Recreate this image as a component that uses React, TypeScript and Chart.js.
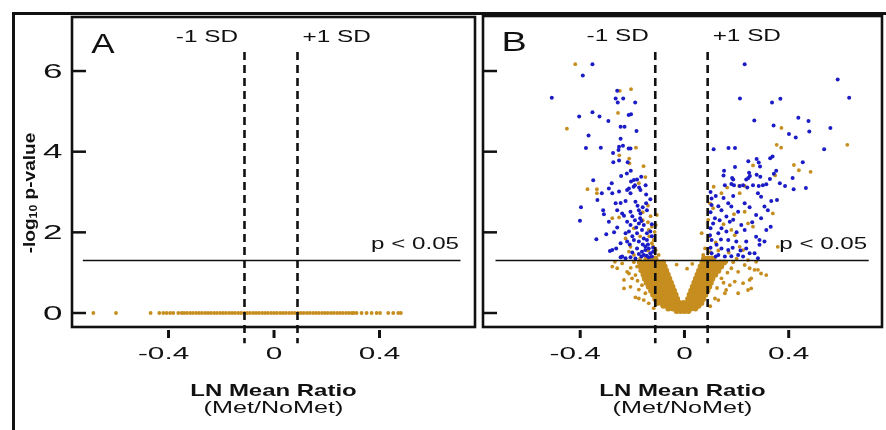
import React, { useEffect, useRef } from "react";
import { Chart, registerables } from "chart.js";

Chart.register(...registerables);

const FONT = '"Liberation Sans", Arial, sans-serif';
const GOLD = "#c68d1f";
const BLUE = "#1c1cc6";
const INK = "#111111";

// ---- axes / annotations ----
const xTicks = [-0.4, 0, 0.4];
const xTickLabels = ["-0.4", "0", "0.4"];
const yTicks = [0, 2, 4, 6];
const yTickLabels = ["0", "2", "4", "6"];
const sdLines = [-0.112, 0.089];
const sdLabels = ["-1 SD", "+1 SD"];
const sdLineSpan = [6.47, -0.75];
const pThreshold = 1.3;
const pLineX = [-0.725, 0.707];
const pLabel = "p < 0.05";
const xTitle = "LN Mean Ratio";
const xSubtitle = "(Met/NoMet)";
const yTitleMain = "-log";
const yTitleSub = "10";
const yTitleEnd = " p-value";
const panelLetters = ["A", "B"];

const xRangeA = [-0.766, 0.762];
const yRangeA = [-0.347, 7.34];
const xRangeB = [-0.773, 0.758];
const yRangeB = [-0.347, 7.364];

// ---- Panel A: every ratio has -log10 p = 0 ----
const panelAX = [
  -0.685, -0.599, -0.468, -0.435, -0.42, -0.407, -0.394, -0.382, -0.363, -0.35,
  -0.341, -0.33, -0.318, -0.307, -0.295, -0.284, -0.273, -0.261, -0.25, -0.239,
  -0.227, -0.216, -0.204, -0.193, -0.182, -0.17, -0.159, -0.148, -0.136, -0.125,
  -0.113, -0.102, -0.091, -0.079, -0.068, -0.057, -0.045, -0.034, -0.023, -0.011,
  0, 0.011, 0.023, 0.034, 0.045, 0.057, 0.068, 0.079, 0.091, 0.102, 0.113, 0.125,
  0.136, 0.148, 0.159, 0.17, 0.182, 0.193, 0.204, 0.216, 0.227, 0.239, 0.25,
  0.261, 0.273, 0.284, 0.295, 0.302, 0.313, 0.332, 0.351, 0.37, 0.389, 0.402,
  0.433, 0.452, 0.471, 0.481,
];

// ---- Panel B: significant (blue) ----
const panelBBlue = [
  [-0.353, 6.17], [-0.39, 5.89], [-0.509, 5.34], [-0.258, 5.51], [-0.264, 5.32], [-0.235, 5.32],
  [-0.256, 5.22], [-0.189, 5.22], [-0.353, 4.98], [-0.214, 4.91], [-0.205, 4.93], [-0.404, 4.87],
  [-0.326, 4.87], [-0.292, 4.76], [-0.245, 4.62], [-0.23, 4.62], [-0.184, 4.51], [-0.368, 4.4],
  [-0.245, 4.32], [-0.378, 4.09], [-0.321, 4.1], [-0.251, 4.12], [-0.236, 4.15], [-0.253, 4.04],
  [-0.214, 4.08], [-0.207, 4.08], [-0.274, 3.97], [-0.273, 3.74], [-0.251, 3.78], [-0.218, 3.74],
  [-0.206, 3.53], [-0.221, 3.46], [-0.243, 3.4], [-0.166, 3.38], [-0.35, 3.29], [-0.194, 3.3],
  [-0.182, 3.31], [-0.279, 3.22], [-0.195, 3.13], [-0.174, 3.11], [-0.149, 3.17], [-0.29, 3.09],
  [-0.213, 3.09], [-0.205, 3.26], [-0.19, 3.17],
  [-0.317, 2.97], [-0.277, 2.97], [-0.251, 3.01], [-0.22, 3.05], [-0.207, 2.97], [-0.169, 3.05],
  [-0.147, 2.94], [-0.334, 2.8], [-0.264, 2.72], [-0.245, 2.73], [-0.226, 2.78], [-0.188, 2.76],
  [-0.147, 2.72], [-0.131, 2.82], [-0.397, 2.62], [-0.312, 2.55], [-0.309, 2.45], [-0.258, 2.55],
  [-0.239, 2.47], [-0.232, 2.41], [-0.207, 2.51], [-0.175, 2.55], [-0.169, 2.47], [-0.144, 2.55],
  [-0.401, 2.29], [-0.29, 2.26], [-0.22, 2.26], [-0.207, 2.18], [-0.175, 2.22], [-0.156, 2.18],
  [-0.258, 2.12], [-0.226, 1.98], [-0.213, 2.02], [-0.182, 1.98], [-0.163, 2.06], [-0.144, 1.98],
  [-0.131, 2.02], [-0.338, 1.83], [-0.245, 1.73], [-0.22, 1.77], [-0.194, 1.81], [-0.175, 1.77],
  [-0.156, 1.85], [-0.144, 1.81], [-0.286, 1.54], [-0.262, 1.6], [-0.182, 1.6], [-0.163, 1.52],
  [-0.15, 1.56], [-0.137, 1.6], [-0.156, 1.44], [-0.175, 1.46], [-0.131, 1.48], [-0.245, 1.38],
  [-0.226, 1.36], [-0.207, 1.38], [-0.188, 1.35], [-0.137, 1.38], [-0.277, 1.56], [-0.239, 1.4],
  [-0.2, 1.9], [-0.19, 2.3], [-0.17, 2.35], [-0.16, 1.7], [-0.15, 1.65], [-0.14, 1.7],
  [-0.125, 1.9], [-0.12, 1.62], [-0.165, 1.4], [-0.145, 1.42], [-0.2, 1.5], [-0.21, 1.7],
  [-0.185, 2.12], [-0.165, 2.28], [-0.125, 2.2], [-0.2, 2.4], [-0.18, 2.66], [-0.16, 2.62],
  [-0.27, 2.0], [-0.3, 1.95], [-0.125, 1.4], [-0.12, 1.52],
  [0.231, 6.17], [0.588, 5.79], [0.632, 5.34], [0.213, 5.32], [0.336, 5.22], [0.368, 5.31],
  [0.268, 4.77], [0.437, 4.84], [0.476, 4.76], [0.342, 4.65], [0.56, 4.59], [0.479, 4.5],
  [0.401, 4.44], [0.427, 4.35], [0.536, 4.06], [0.112, 4.06], [0.169, 4.09], [0.194, 4.09],
  [0.277, 3.82], [0.245, 3.76], [0.285, 3.73], [0.329, 3.84], [0.338, 3.88], [0.454, 3.74],
  [0.29, 3.63], [0.194, 3.62], [0.152, 3.53], [0.15, 3.41], [0.248, 3.48], [0.251, 3.4],
  [0.245, 3.35], [0.237, 3.31], [0.277, 3.43], [0.352, 3.53], [0.343, 3.45], [0.291, 3.38],
  [0.183, 3.35], [0.187, 3.31], [0.415, 3.35], [0.328, 3.32], [0.366, 3.22], [0.314, 3.19],
  [0.301, 3.17], [0.285, 3.15], [0.263, 3.17], [0.241, 3.11], [0.386, 3.15], [0.19, 3.17],
  [0.225, 3.17], [0.466, 3.1], [0.419, 3.07], [0.155, 3.17], [0.18, 3.2], [0.212, 3.15],
  [0.187, 2.9], [0.282, 2.97], [0.294, 2.88], [0.333, 2.78], [0.355, 2.8], [0.104, 2.84],
  [0.104, 2.68], [0.168, 2.72], [0.18, 2.64], [0.231, 2.72], [0.25, 2.62], [0.307, 2.64],
  [0.32, 2.55], [0.206, 2.51], [0.142, 2.55], [0.161, 2.39], [0.174, 2.26], [0.187, 2.31],
  [0.117, 2.35], [0.11, 2.22], [0.275, 2.43], [0.294, 2.35], [0.218, 2.18], [0.231, 2.06],
  [0.142, 2.1], [0.161, 2.02], [0.13, 1.98], [0.275, 1.89], [0.288, 1.81], [0.307, 1.77],
  [0.098, 1.93], [0.104, 1.81], [0.168, 1.81], [0.199, 1.77], [0.237, 1.77], [0.123, 1.69],
  [0.142, 1.6], [0.168, 1.56], [0.237, 1.6], [0.25, 1.48], [0.104, 1.48], [0.13, 1.44],
  [0.155, 1.4], [0.18, 1.41], [0.206, 1.44], [0.225, 1.4], [0.282, 1.36], [0.314, 2.06],
  [0.331, 2.14], [0.288, 1.69], [0.269, 1.48],
  [0.1, 3.0], [0.1, 2.5], [0.1, 2.1], [0.1, 1.62], [0.12, 2.9], [0.13, 2.65], [0.15, 2.85],
  [0.14, 1.82], [0.185, 1.62], [0.2, 2.0], [0.215, 1.55], [0.12, 1.4], [0.135, 2.3], [0.26, 2.25],
];

// ---- Panel B: not significant (gold), sparse ----
const panelBGold = [
  [-0.419, 6.17], [-0.248, 5.51], [-0.205, 5.55], [-0.255, 4.96], [-0.451, 4.57], [-0.186, 4.1],
  [-0.25, 3.91], [-0.212, 3.83], [-0.211, 3.71], [-0.157, 3.64], [-0.15, 3.37], [-0.175, 3.22],
  [-0.372, 3.07], [-0.336, 3.07], [-0.336, 2.97], [-0.106, 2.43], [-0.277, 2.35], [-0.251, 2.37],
  [-0.194, 2.1], [-0.137, 2.06], [-0.125, 2.14], [-0.226, 1.85], [-0.207, 1.64], [-0.125, 1.73],
  [-0.213, 1.52], [-0.194, 1.44], [-0.118, 1.81], [-0.11, 1.56], [-0.114, 2.01], [-0.122, 1.36],
  [-0.099, 1.44], [-0.11, 2.18], [-0.16, 2.3], [-0.14, 2.25], [-0.13, 2.4], [-0.17, 1.9],
  [-0.135, 1.9], [-0.15, 1.3], [-0.14, 1.55], [-0.17, 1.35], [-0.12, 1.65], [-0.16, 2.5], [-0.14, 2.66],
  [0.372, 4.59], [0.354, 4.17], [0.371, 4.1], [0.625, 4.17], [0.263, 3.66], [0.42, 3.67],
  [0.439, 3.54], [0.484, 3.5], [0.348, 3.41], [0.112, 3.13], [0.164, 3.11], [0.21, 3.15],
  [0.231, 3.15], [0.142, 2.97], [0.212, 2.97], [0.339, 2.47], [0.231, 2.51], [0.244, 2.22],
  [0.263, 2.14], [0.18, 2.06], [0.193, 1.93], [0.212, 1.64], [0.225, 1.56], [0.066, 1.98],
  [0.079, 1.6], [0.072, 1.44], [0.091, 2.31], [0.098, 2.72], [0.358, 1.64], [0.084, 1.36],
  [0.099, 1.51], [0.114, 1.36], [0.15, 2.2], [0.12, 1.75], [0.17, 1.5], [0.2, 1.35], [0.13, 1.55],
  [0.095, 1.9], [0.11, 2.6], [0.19, 2.45],
  [-0.277, 1.15], [-0.258, 1.11], [-0.267, 1.27], [-0.232, 0.61], [-0.207, 0.65], [-0.22, 1.02],
  [-0.188, 0.94], [-0.201, 0.86], [-0.175, 0.36], [-0.15, 0.49], [-0.163, 0.69], [-0.239, 1.23],
  [-0.182, 1.15], [-0.137, 0.24], [-0.188, 0.39], [-0.232, 0.82], [-0.213, 0.98], [-0.194, 1.26],
  [-0.206, 1.12], [-0.156, 0.32], [-0.118, 0.12], [-0.18, 0.8], [-0.17, 1.05], [-0.175, 0.58],
  [0.18, 1.11], [0.206, 1.02], [0.231, 1.19], [0.256, 0.86], [0.269, 1.07], [0.174, 0.69],
  [0.155, 0.49], [0.142, 0.86], [0.193, 0.78], [0.117, 0.36], [0.161, 1.27], [0.244, 1.31],
  [0.25, 1.11], [0.275, 1.27], [0.282, 1.07], [0.314, 0.94], [0.294, 0.98], [0.25, 0.82],
  [0.256, 0.61], [0.206, 0.49], [0.225, 0.74], [0.244, 0.57], [0.187, 1.26], [0.13, 0.32],
  [0.099, 0.17], [0.16, 0.57], [0.165, 1.0], [0.15, 0.75], [0.125, 0.62],
  [-0.03, 1.2], [0.01, 1.1], [0.03, 1.22],
];

// ---- Panel B: dense core of the volcano (gold), row by row: [y, x values] ----
const panelBCoreRows = [
  [1.35, [-0.145, -0.128, -0.112, 0.075, 0.09, 0.105]],
  [1.25, [-0.171, -0.153, -0.135, -0.117, -0.1, -0.082, 0.069, 0.086, 0.103, 0.12, 0.137, 0.152]],
  [1.15, [-0.168, -0.15, -0.132, -0.113, -0.095, -0.076, 0.062, 0.078, 0.094, 0.11, 0.126, 0.141]],
  [1.05, [-0.162, -0.144, -0.126, -0.107, -0.088, -0.07, 0.056, 0.071, 0.086, 0.1, 0.115, 0.13]],
  [0.95, [-0.157, -0.139, -0.12, -0.101, -0.083, -0.064, 0.05, 0.064, 0.078, 0.091, 0.105, 0.118]],
  [0.85, [-0.152, -0.134, -0.115, -0.096, -0.077, -0.058, 0.044, 0.057, 0.07, 0.082, 0.095, 0.107]],
  [0.75, [-0.145, -0.127, -0.108, -0.089, -0.07, -0.052, 0.038, 0.051, 0.064, 0.076, 0.089, 0.101]],
  [0.65, [-0.137, -0.119, -0.1, -0.082, -0.064, -0.046, 0.032, 0.045, 0.057, 0.07, 0.082, 0.095]],
  [0.55, [-0.128, -0.11, -0.092, -0.075, -0.057, -0.04, 0.026, 0.038, 0.051, 0.063, 0.076, 0.088]],
  [0.45, [-0.12, -0.103, -0.085, -0.068, -0.051, -0.034, 0.02, 0.032, 0.044, 0.056, 0.068, 0.08]],
  [0.35, [-0.112, -0.095, -0.078, -0.061, -0.044, -0.028, 0.014, 0.026, 0.038, 0.05, 0.061, 0.072]],
  [0.25, [-0.105, -0.088, -0.071, -0.054, -0.037, -0.02, -0.004, 0.012, 0.028, 0.043, 0.055, 0.065]],
  [0.18, [-0.081, -0.064, -0.047, -0.03, -0.013, 0.004, 0.021, 0.038, 0.054]],
  [0.11, [-0.062, -0.045, -0.028, -0.011, 0.006, 0.024, 0.042]],
  [0.05, [-0.03, -0.015, 0, 0.015]],
];

function sText(ctx: CanvasRenderingContext2D, text: string, x: number, y: number, font: string, sx: number, align: CanvasTextAlign = "center") {
  ctx.save();
  ctx.translate(x, y);
  ctx.scale(sx, 1);
  ctx.font = font;
  ctx.textAlign = align;
  ctx.textBaseline = "middle";
  ctx.fillStyle = INK;
  ctx.fillText(text, 0, 0);
  ctx.restore();
}

type PanelCfg = { letter: string; letterFont: string; letterSx: number; showYLabels: boolean; outerFrame: boolean };

function makeDecor(cfg: PanelCfg) {
  return {
    id: "decor",
    afterDatasetsDraw(chart: any) {
      const ctx: CanvasRenderingContext2D = chart.ctx;
      const a = chart.chartArea;
      const xs = chart.scales.x;
      const ys = chart.scales.y;
      ctx.save();
      ctx.strokeStyle = INK;
      ctx.lineCap = "butt";

      // dashed ±1 SD lines
      ctx.setLineDash([8, 5]);
      ctx.lineWidth = 2.6;
      sdLines.forEach((v) => {
        const px = xs.getPixelForValue(v);
        ctx.beginPath();
        ctx.moveTo(px, ys.getPixelForValue(sdLineSpan[0]));
        ctx.lineTo(px, ys.getPixelForValue(sdLineSpan[1]));
        ctx.stroke();
      });
      ctx.setLineDash([]);

      // p < 0.05 threshold
      const py = ys.getPixelForValue(pThreshold);
      ctx.lineWidth = 1.5;
      ctx.beginPath();
      ctx.moveTo(xs.getPixelForValue(pLineX[0]), py);
      ctx.lineTo(xs.getPixelForValue(pLineX[1]), py);
      ctx.stroke();

      // panel frame
      ctx.lineWidth = 2.6;
      ctx.strokeRect(a.left, a.top, a.right - a.left, a.bottom - a.top);

      // outer frame
      if (cfg.outerFrame) {
        ctx.lineWidth = 3;
        ctx.beginPath();
        ctx.moveTo(13.5, 430);
        ctx.lineTo(13.5, 13.5);
        ctx.lineTo(886, 13.5);
        ctx.stroke();
      }

      // y tick marks (inward)
      ctx.lineWidth = 2.5;
      yTicks.forEach((v) => {
        const p = ys.getPixelForValue(v);
        ctx.beginPath();
        ctx.moveTo(a.left, p);
        ctx.lineTo(a.left + 14, p);
        ctx.stroke();
      });
      // x tick marks (below, detached)
      ctx.lineWidth = 3;
      xTicks.forEach((v) => {
        const p = xs.getPixelForValue(v);
        ctx.beginPath();
        ctx.moveTo(p, a.bottom + 3);
        ctx.lineTo(p, a.bottom + 11);
        ctx.stroke();
      });

      const tickFont = `17px ${FONT}`;
      xTicks.forEach((v, i) => {
        const p = xs.getPixelForValue(v);
        const lab = xTickLabels[i];
        if (lab.startsWith("-")) {
          ctx.font = tickFont;
          const w = ctx.measureText(lab.slice(1)).width * 1.75;
          sText(ctx, lab, p + w / 2, a.bottom + 27.5, tickFont, 1.75, "right");
        } else {
          sText(ctx, lab, p, a.bottom + 27.5, tickFont, 1.75, "center");
        }
      });

      if (cfg.showYLabels) {
        yTicks.forEach((v, i) => {
          sText(ctx, yTickLabels[i], a.left - 9.5, ys.getPixelForValue(v) + 1, `20px ${FONT}`, 1.75, "right");
        });
        // rotated y title with subscript
        ctx.save();
        ctx.translate(30, 193);
        ctx.rotate(-Math.PI / 2);
        ctx.scale(1.12, 1.0);
        ctx.fillStyle = INK;
        ctx.textBaseline = "middle";
        ctx.textAlign = "left";
        const mainF = `bold 17px ${FONT}`;
        const subF = `bold 11px ${FONT}`;
        ctx.font = mainF;
        const w1 = ctx.measureText(yTitleMain).width;
        const w3 = ctx.measureText(yTitleEnd).width;
        ctx.font = subF;
        const w2 = ctx.measureText(yTitleSub).width;
        let x0 = -(w1 + w2 + w3) / 2;
        ctx.font = mainF;
        ctx.fillText(yTitleMain, x0, 0);
        x0 += w1;
        ctx.font = subF;
        ctx.fillText(yTitleSub, x0, 4);
        x0 += w2;
        ctx.font = mainF;
        ctx.fillText(yTitleEnd, x0, 0);
        ctx.restore();
      }

      // x titles
      const cx = (a.left + a.right) / 2;
      sText(ctx, xTitle, cx, 391, `bold 17px ${FONT}`, 1.41, "center");
      sText(ctx, xSubtitle, cx, 408.5, `17px ${FONT}`, 1.48, "center");

      // SD labels
      const sdFont = `16px ${FONT}`;
      sText(ctx, sdLabels[0], xs.getPixelForValue(sdLines[0]) - 6.5, a.top + 21, sdFont, 1.52, "right");
      sText(ctx, sdLabels[1], xs.getPixelForValue(sdLines[1]) + 5, a.top + 21, sdFont, 1.52, "left");

      // p label
      sText(ctx, pLabel, xs.getPixelForValue(pLineX[1]) - 1.5, py - 16, `17px ${FONT}`, 1.42, "right");

      // panel letter
      sText(ctx, cfg.letter, a.left + 31, a.top + 28, cfg.letterFont, cfg.letterSx, "center");

      ctx.restore();
    },
  };
}

function toPts(arr: number[][]) {
  return arr.map((p) => ({ x: p[0], y: p[1] }));
}

function Panel({ which }: { which: "A" | "B" }) {
  const ref = useRef<HTMLCanvasElement | null>(null);
  useEffect(() => {
    if (!ref.current) return;
    const isA = which === "A";
    const datasets: any[] = isA
      ? [
          {
            data: panelAX.map((x) => ({ x, y: 0 })),
            pointRadius: 1.9,
            backgroundColor: GOLD,
            borderWidth: 0,
          },
        ]
      : [
          { data: toPts(panelBBlue), pointRadius: 2.0, backgroundColor: BLUE, borderWidth: 0 },
          { data: toPts(panelBGold), pointRadius: 1.9, backgroundColor: GOLD, borderWidth: 0 },
          {
            data: panelBCoreRows.flatMap((r: any) => (r[1] as number[]).map((x) => ({ x, y: r[0] as number }))),
            pointRadius: 3,
            backgroundColor: GOLD,
            borderWidth: 0,
          },
        ];
    const xr = isA ? xRangeA : xRangeB;
    const yr = isA ? yRangeA : yRangeB;
    const chart = new Chart(ref.current, {
      type: "scatter",
      data: { datasets },
      options: {
        animation: false,
        responsive: false,
        devicePixelRatio: 1,
        events: [],
        layout: {
          padding: isA
            ? { left: 72, top: 17, right: 886 - 475, bottom: 430 - 327 }
            : { left: 483, top: 16, right: 1, bottom: 430 - 327 },
        },
        scales: {
          x: { type: "linear", min: xr[0], max: xr[1], display: false },
          y: { type: "linear", min: yr[0], max: yr[1], display: false },
        },
        plugins: { legend: { display: false }, tooltip: { enabled: false } },
      },
      plugins: [
        makeDecor(
          isA
            ? { letter: panelLetters[0], letterFont: `28px ${FONT}`, letterSx: 1.25, showYLabels: true, outerFrame: true }
            : { letter: panelLetters[1], letterFont: `27px ${FONT}`, letterSx: 1.4, showYLabels: false, outerFrame: false }
        ),
      ],
    } as any);
    return () => chart.destroy();
  }, [which]);
  return (
    <canvas
      ref={ref}
      width={886}
      height={430}
      style={{ position: "absolute", left: 0, top: 0, width: 886, height: 430 }}
    />
  );
}

export default function App() {
  return (
    <div style={{ position: "fixed", left: 0, top: 0, width: 886, height: 430, background: "#ffffff", overflow: "hidden" }}>
      <Panel which="A" />
      <Panel which="B" />
    </div>
  );
}
